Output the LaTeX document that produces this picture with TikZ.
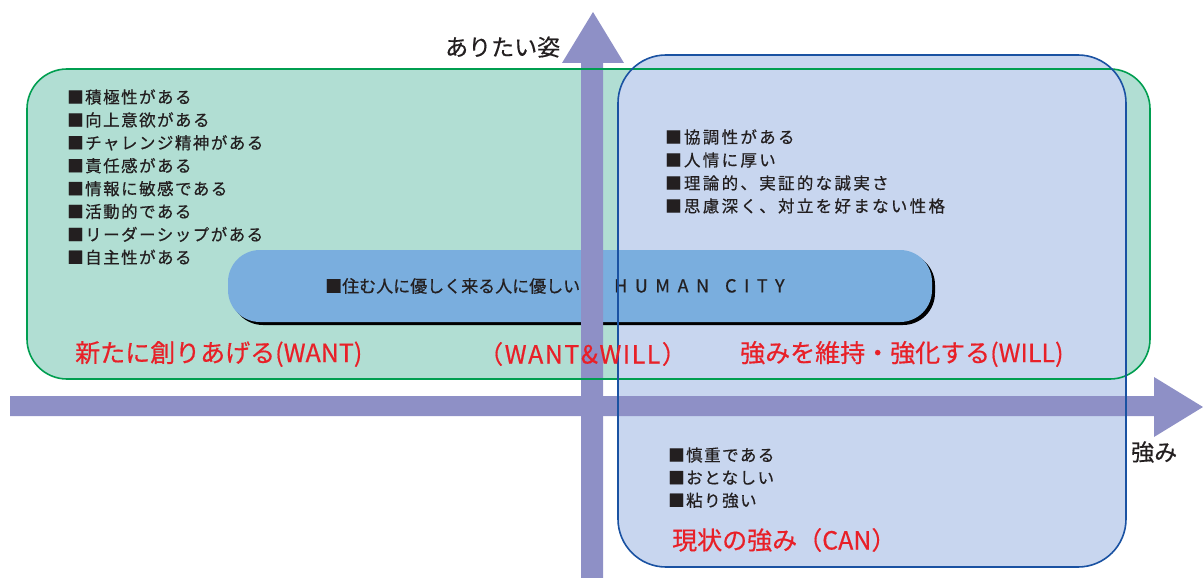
\documentclass[tikz,border=0pt]{standalone}
\usepackage{fontspec}
\setmainfont{Noto Sans CJK JP}[FakeBold=0.5]
\newfontfamily\jplist[LetterSpace=9,FakeBold=0.5]{Noto Sans CJK JP}
\newfontfamily\jpwide[LetterSpace=14,FakeBold=0.5]{Noto Sans CJK JP}
\newfontfamily\jpcity[LetterSpace=42,FakeBold=0.5]{Noto Sans CJK JP}
\newfontfamily\jplabel[LetterSpace=6,FakeBold=0.5]{Noto Sans CJK JP}
\usetikzlibrary{shadows}

\definecolor{wantfill}{RGB}{177,222,211}
\definecolor{wantline}{RGB}{0,158,80}
\definecolor{canfill}{RGB}{200,214,239}
\definecolor{canline}{RGB}{26,82,162}
\definecolor{axisfill}{RGB}{142,144,198}
\definecolor{pillfill}{RGB}{122,174,222}
\definecolor{labelred}{RGB}{232,32,40}
\definecolor{ink}{RGB}{35,31,32}

\tikzset{
  item/.style={anchor=west, inner sep=0pt, text=ink, font=\jplist\fontsize{16.5}{18}\selectfont},
  itemwide/.style={item, font=\jpwide\fontsize{16.5}{18}\selectfont},
  quadlabel/.style={anchor=west, inner sep=0pt, text=labelred, font=\fontsize{25}{28}\selectfont},
  axislabel/.style={anchor=west, inner sep=0pt, text=ink, font=\fontsize{23}{26}\selectfont},
  pill/.style={rectangle, rounded corners=32pt, fill=pillfill, minimum width=704pt,
    minimum height=72pt, inner sep=0pt,
    drop shadow={shadow xshift=3pt, shadow yshift=-3pt, fill=black, opacity=1}},
}

\begin{document}
\begin{tikzpicture}[x=1pt, y=-1pt]
  \useasboundingbox (0,0) rectangle (1203,578);

  % Areas (fills)
  \fill[wantfill, rounded corners=40pt] (27,69) rectangle (1150,379);
  \fill[canfill, rounded corners=48pt] (618,55) rectangle (1126,567);

  % HUMAN CITY
  \node[pill] (city) at (580,286) {};
  \node[inner sep=0pt, text=ink, font=\fontsize{17}{20}\selectfont, anchor=west]
    (citytext) at (325,286) {■住む人に優しく来る人に優しい\hspace{34pt}{\jpcity\fontsize{18}{20}\selectfont HUMAN\hspace{16pt}CITY}};

  % Axes
  \fill[axisfill] (581,578) -- (581,63) -- (562,63) -- (593,12) -- (624,63)
    -- (603,63) -- (603,578) -- cycle;
  \fill[axisfill] (10,396) -- (1154,396) -- (1154,377) -- (1203,407) -- (1154,437)
    -- (1154,416) -- (10,416) -- cycle;

  % Areas (borders)
  \draw[wantline, line width=1.6pt, rounded corners=40pt] (27,69) rectangle (1150,379);
  \draw[canline, line width=1.6pt, rounded corners=48pt] (618,55) rectangle (1126,567);

  % Axis labels
  \node[axislabel] (wishlabel) at (445,47) {ありたい姿};
  \node[axislabel] (strengthlabel) at (1131,452) {強み};

  % Lists
  \foreach \t [count=\i] in {積極性がある, 向上意欲がある, チャレンジ精神がある, 責任感がある,
      情報に敏感である, 活動的である, リーダーシップがある, 自主性がある}
    \node[item] (want\i) at (67,{97+22.9*(\i-1)}) {■\t};
  \foreach \t [count=\i] in {協調性がある, 人情に厚い, 理論的、実証的な誠実さ,
      思慮深く、対立を好まない性格}
    \node[itemwide] (will\i) at (665,{137+23*(\i-1)}) {■\t};
  \foreach \t [count=\i] in {慎重である, おとなしい, 粘り強い}
    \node[item] (can\i) at (668,{455+22.7*(\i-1)}) {■\t};

  % Quadrant labels
  \node[quadlabel] (wantlabel) at (75,354) {新たに創りあげる(WANT)};
  \node[quadlabel, font=\jplabel\fontsize{25}{28}\selectfont] (bothlabel) at (478,354) {（WANT\&WILL）};
  \node[quadlabel] (willlabel) at (740,354) {強みを維持・強化する(WILL)};
  \node[quadlabel] (canlabel) at (672,540) {現状の強み（CAN）};

\end{tikzpicture}
\end{document}
